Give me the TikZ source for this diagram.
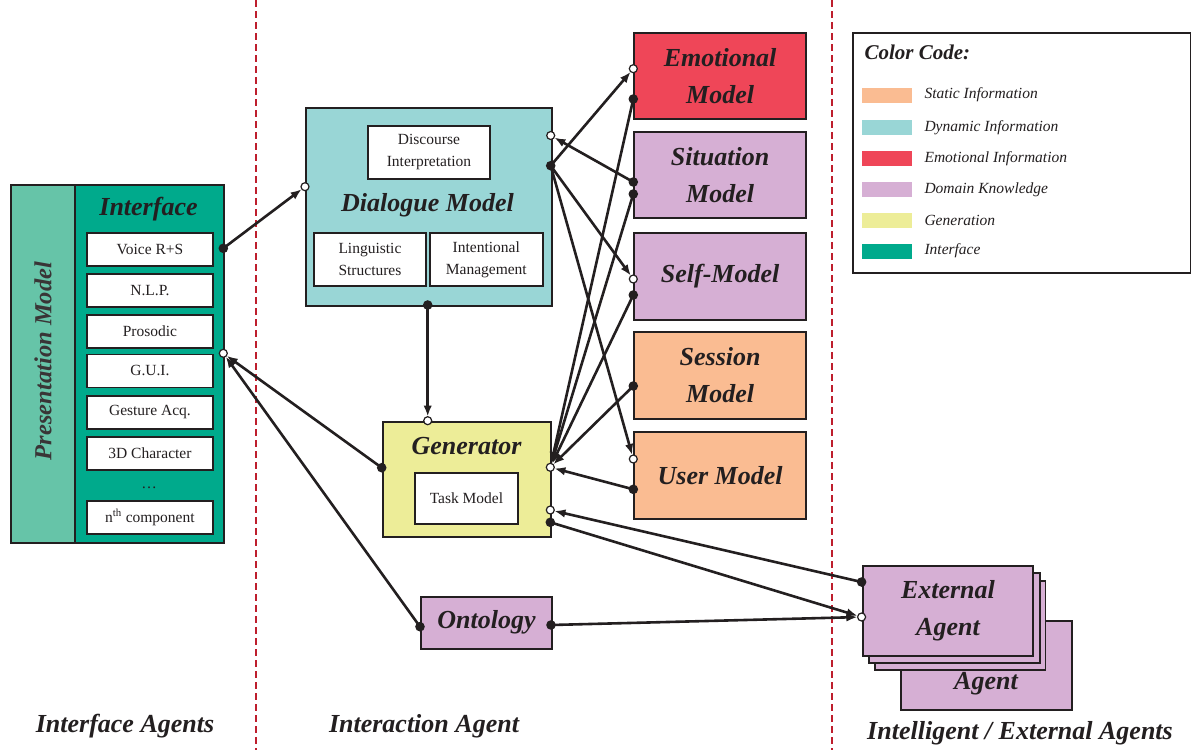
\documentclass[tikz,border=0pt]{standalone}
\usepackage{fontspec}
\setmainfont{Liberation Serif}
\usetikzlibrary{arrows.meta}

\definecolor{ink}{HTML}{231F20}
\definecolor{ifgreen}{HTML}{00AA8C}
\definecolor{pmgreen}{HTML}{66C4A8}
\definecolor{dynteal}{HTML}{99D6D6}
\definecolor{emored}{HTML}{EF4658}
\definecolor{domlilac}{HTML}{D6AFD4}
\definecolor{statpeach}{HTML}{FABC92}
\definecolor{genyellow}{HTML}{EDED98}
\definecolor{divred}{HTML}{BE1E2D}

\tikzset{
  box/.style={draw=ink, line width=1.9pt, anchor=north west, inner sep=0pt,
              align=center, text=ink},
  bigfont/.style={font=\fontsize{26}{37}\selectfont\bfseries\itshape, text=ink, align=center},
  smallfont/.style={font=\fontsize{15.5}{22}\selectfont, text=ink, align=center},
  legfont/.style={font=\fontsize{15.5}{20}\selectfont\itshape, text=ink, anchor=west},
  comp/.style={box, fill=white, minimum width=126pt, minimum height=33pt, smallfont},
  model/.style={box, minimum width=171.7pt, minimum height=86.6pt, bigfont},
  swatch/.style={draw=none, fill=#1, minimum width=50pt, minimum height=15pt,
                 inner sep=0pt, anchor=west},
  conn/.style={draw=ink, line width=2.6pt,
               -{Latex[length=11pt,width=8.5pt]}, shorten >=4.2pt},
  dotport/.style={fill=ink, draw=none},
  openport/.style={fill=white, draw=ink, line width=1.2pt},
  divider/.style={draw=divred, line width=1.7pt, dash pattern=on 7pt off 4pt}
}

\begin{document}
\begin{tikzpicture}[x=1pt,y=-1pt]
\useasboundingbox (0,0) rectangle (1191,750);
\fill[white] (0,0) rectangle (1191,750);

% agent-group dividers
\coordinate (divAtop) at (256,0);   \coordinate (divAbot) at (256,750);
\coordinate (divBtop) at (832,0);   \coordinate (divBbot) at (832,750);
\draw[divider] (divAtop) -- (divAbot);
\draw[divider] (divBtop) -- (divBbot);

% ---------- presentation model / interface ----------
\node[box, fill=pmgreen, minimum width=64pt, minimum height=358pt] (pm) at (10,184) {};
\node[box, fill=ifgreen, minimum width=149pt, minimum height=358pt] (ifc) at (74,184) {};
\node[bigfont, rotate=90, font=\fontsize{24.5}{30}\selectfont\bfseries\itshape, text=ink!90] (pmT) at (43,361) {Presentation Model};
\node[bigfont] (ifT) at (148.5,209) {Interface};
\node[comp] (c1) at (86,232) {Voice R+S};
\node[comp] (c2) at (86,273) {N.L.P.};
\node[comp] (c3) at (86,314) {Prosodic};
\node[comp] (c4) at (86,353.5) {G.U.I.};
\node[comp] (c5) at (86,395) {Gesture Acq.};
\node[comp] (c6) at (86,436) {3D Character};
\node[smallfont] (cdots) at (149,488) {\dots};
\node[comp] (c7) at (86,500) {n\textsuperscript{th} component};

% ---------- dialogue model ----------
\node[box, fill=dynteal, minimum width=245.7pt, minimum height=198.3pt] (dm) at (305,106.7) {};
\node[box, fill=white, minimum width=122pt, minimum height=53pt, smallfont] (disc) at (367,125) {Discourse\\Interpretation};
\node[bigfont] (dmT) at (427.5,205) {Dialogue Model};
\node[box, fill=white, minimum width=112pt, minimum height=53pt, smallfont] (ling) at (313,232) {Linguistic\\Structures};
\node[box, fill=white, minimum width=112.7pt, minimum height=53pt, smallfont] (intm) at (429,232) {Intentional\\Management};

% ---------- generator ----------
\node[box, fill=genyellow, minimum width=168.6pt, minimum height=115pt] (gen) at (381.7,420.7) {};
\node[bigfont] (genT) at (466.5,446) {Generator};
\node[box, fill=white, minimum width=103pt, minimum height=51pt, smallfont] (task) at (414,471.7) {Task Model};

% ---------- ontology ----------
\node[box, fill=domlilac, minimum width=131pt, minimum height=52pt, bigfont] (ont) at (420,595.7) {Ontology};

% ---------- knowledge models ----------
\node[model, fill=emored]    (emo) at (633.3,31.7)  {Emotional\\Model};
\node[model, fill=domlilac]  (sit) at (633.3,130.7) {Situation\\Model};
\node[model, fill=domlilac]  (slf) at (633.3,232)   {Self-Model};
\node[model, fill=statpeach] (ses) at (633.3,331)   {Session\\Model};
\node[model, fill=statpeach] (usr) at (633.3,431)   {User Model};

% ---------- external agents (stacked) ----------
\node[box, fill=domlilac, minimum width=171pt, minimum height=89pt] (ext4) at (900.2,619.8) {};
\node[bigfont] (ext4T) at (986,684) {Agent};
\node[box, fill=domlilac, minimum width=170.5pt, minimum height=89.4pt] (ext3) at (874,580) {};
\node[box, fill=domlilac, minimum width=170.8pt, minimum height=89.8pt] (ext2) at (867.8,572) {};
\node[box, fill=domlilac, minimum width=170.8pt, minimum height=89.6pt, bigfont] (ext1) at (861.6,565.4) {External\\Agent};

% ---------- colour code ----------
\node[box, fill=white, minimum width=338.3pt, minimum height=240.6pt] (legend) at (851.7,31.7) {};
\node[anchor=west, font=\fontsize{21}{24}\selectfont\bfseries\itshape, text=ink] (legT) at (861,52) {Color Code:};
\node[swatch=statpeach] (s1) at (862,95)    {};  \node[legfont] (l1) at (921,95)    {Static Information};
\node[swatch=dynteal]   (s2) at (862,127.3) {};  \node[legfont] (l2) at (921,127.3) {Dynamic Information};
\node[swatch=emored]    (s3) at (862,158.3) {};  \node[legfont] (l3) at (921,158.3) {Emotional Information};
\node[swatch=domlilac]  (s4) at (862,189.3) {};  \node[legfont] (l4) at (921,189.3) {Domain Knowledge};
\node[swatch=genyellow] (s5) at (862,220)   {};  \node[legfont] (l5) at (921,220)   {Generation};
\node[swatch=ifgreen]   (s6) at (862,251)   {};  \node[legfont] (l6) at (921,251)   {Interface};

% ---------- group captions ----------
\node[bigfont] (capA) at (125,726) {Interface Agents};
\node[bigfont] (capB) at (424,726) {Interaction Agent};
\node[bigfont] (capC) at (1020,733) {Intelligent / External Agents};

% ---------- ports ----------
\coordinate (ifOut)  at (223.3,248.3);
\coordinate (ifIn)   at (223.3,353.3);
\coordinate (dmIn)   at (305,186.7);
\coordinate (dmInR)  at (550.7,135.5);
\coordinate (dmOut)  at (550.7,165.7);
\coordinate (dmDown) at (427.7,305);
\coordinate (genTop) at (427.7,420.7);
\coordinate (genL)   at (381.7,467.7);
\coordinate (genIn)  at (550.3,467.3);
\coordinate (genInX) at (550.3,510);
\coordinate (genOut) at (550.3,522.3);
\coordinate (ontL)   at (420,626.7);
\coordinate (ontR)   at (551,625);
\coordinate (emoIn)  at (633.3,68.7);
\coordinate (emoOut) at (633.3,99);
\coordinate (sitOutA) at (633.3,182);
\coordinate (sitOutB) at (633.3,194);
\coordinate (slfIn)  at (633.3,279);
\coordinate (slfOut) at (633.3,295);
\coordinate (sesOut) at (633.3,386);
\coordinate (usrIn)  at (633.3,459);
\coordinate (usrOut) at (633.3,489.3);
\coordinate (extOut) at (861.6,582);
\coordinate (extIn)  at (861.6,617);

% ---------- connectors ----------
\draw[conn] (ifOut) -- (dmIn);
\draw[conn] (genL) -- (ifIn);
\draw[conn] (ontL) -- (ifIn);
\draw[conn] (dmDown) -- (genTop);
\draw[conn] (dmOut) -- (emoIn);
\draw[conn] (sitOutA) -- (dmInR);
\draw[conn] (dmOut) -- (slfIn);
\draw[conn] (dmOut) -- (usrIn);
\draw[conn] (emoOut) -- (genIn);
\draw[conn] (sitOutB) -- (genIn);
\draw[conn] (slfOut) -- (genIn);
\draw[conn] (sesOut) -- (genIn);
\draw[conn] (usrOut) -- (genIn);
\draw[conn] (extOut) -- (genInX);
\draw[conn] (genOut) -- (extIn);
\draw[conn] (ontR) -- (extIn);

% ---------- port markers ----------
\foreach \p in {ifOut,dmOut,dmDown,genL,genOut,ontL,ontR,emoOut,sitOutA,sitOutB,slfOut,sesOut,usrOut,extOut}
  \fill[dotport] (\p) circle (4.8pt);
\foreach \p in {ifIn,dmIn,dmInR,genTop,genIn,genInX,emoIn,slfIn,usrIn,extIn}
  \filldraw[openport] (\p) circle (4pt);
\end{tikzpicture}
\end{document}
